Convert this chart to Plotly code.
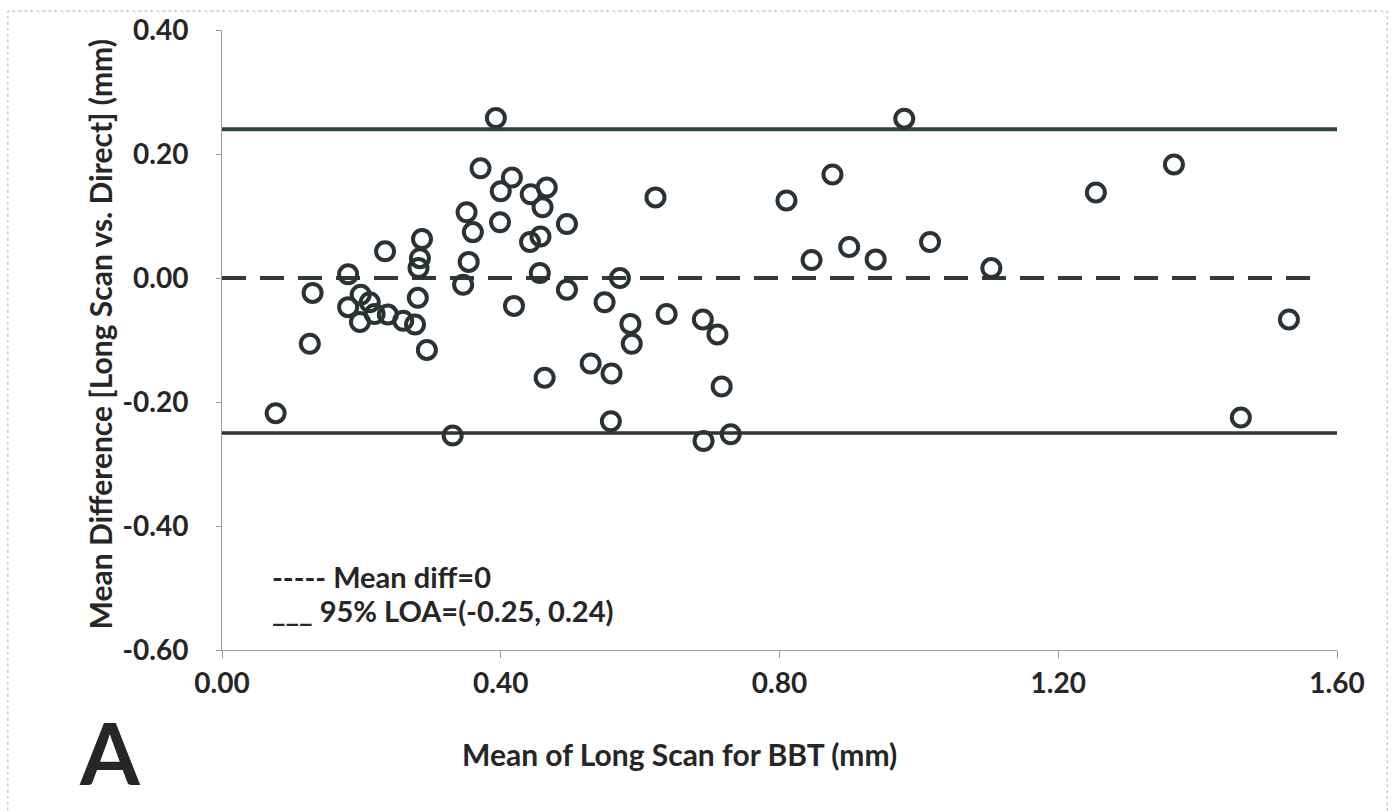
import plotly.graph_objects as go

# Bland-Altman data: mean of long scan (x) vs mean difference (y)
mean_long = [0.077, 0.126, 0.130, 0.181, 0.181, 0.199, 0.212, 0.219, 0.198, 0.234,
             0.238, 0.260, 0.277, 0.281, 0.282, 0.284, 0.287, 0.294, 0.331, 0.346,
             0.351, 0.354, 0.360, 0.371, 0.393, 0.400, 0.399, 0.416, 0.419, 0.442,
             0.443, 0.457, 0.456, 0.460, 0.466, 0.463, 0.495, 0.495, 0.529, 0.549,
             0.559, 0.558, 0.571, 0.586, 0.588, 0.622, 0.638, 0.690, 0.691, 0.711,
             0.717, 0.730, 0.810, 0.846, 0.876, 0.900, 0.938, 0.979, 1.016, 1.104,
             1.254, 1.366, 1.462, 1.531]
mean_diff = [-0.218, -0.106, -0.024, 0.006, -0.047, -0.027, -0.039, -0.058, -0.071, 0.043,
             -0.059, -0.069, -0.075, -0.032, 0.016, 0.032, 0.063, -0.116, -0.254, -0.011,
             0.106, 0.026, 0.074, 0.177, 0.258, 0.140, 0.090, 0.162, -0.045, 0.058,
             0.135, 0.067, 0.008, 0.114, 0.146, -0.161, 0.087, -0.019, -0.138, -0.039,
             -0.154, -0.231, 0.000, -0.074, -0.106, 0.130, -0.058, -0.067, -0.263, -0.091,
             -0.175, -0.252, 0.125, 0.029, 0.167, 0.050, 0.030, 0.257, 0.058, 0.016,
             0.138, 0.183, -0.225, -0.067]

mean_line_x = [0.0, 1.578]
mean_line_y = [0.0, 0.0]
loa_x = [0.0, 1.6]
loa_upper = [0.24, 0.24]
loa_lower = [-0.25, -0.25]

x_ticks = [0.0, 0.4, 0.8, 1.2, 1.6]
x_ticktext = ["0.00", "0.40", "0.80", "1.20", "1.60"]
y_ticks = [0.4, 0.2, 0.0, -0.2, -0.4, -0.6]
y_ticktext = ["0.40", "0.20", "0.00", "-0.20", "-0.40", "-0.60"]

FONT = "Lato"
TXT = "#262626"
MARK = "#293430"

fig = go.Figure()
fig.add_trace(go.Scatter(x=loa_x, y=loa_upper, mode="lines",
                         line=dict(color="#2e4638", width=4), hoverinfo="skip"))
fig.add_trace(go.Scatter(x=loa_x, y=loa_lower, mode="lines",
                         line=dict(color="#303433", width=3.5), hoverinfo="skip"))
fig.add_trace(go.Scatter(x=mean_line_x, y=mean_line_y, mode="lines",
                         line=dict(color="#2f3a34", width=4, dash="24px,14px"),
                         hoverinfo="skip"))
fig.add_trace(go.Scatter(x=mean_long, y=mean_diff, mode="markers",
                         marker=dict(symbol="circle-open", size=18, color=MARK,
                                     line=dict(color=MARK, width=4))))

fig.update_layout(
    width=1391, height=811,
    margin=dict(l=222, r=54, t=27, b=161),
    paper_bgcolor="white", plot_bgcolor="white",
    showlegend=False,
    font=dict(family=FONT, color=TXT),
    xaxis=dict(range=[0, 1.6], tickvals=x_ticks, ticktext=x_ticktext,
               showgrid=False, zeroline=False, showline=True,
               linecolor="#9a9a9a", linewidth=1, ticks="outside", ticklen=7,
               tickcolor="#9a9a9a", tickfont=dict(family=FONT, size=28, color=TXT, weight="bold"),
               ticklabelstandoff=1),
    yaxis=dict(range=[-0.6, 0.4], tickvals=y_ticks, ticktext=y_ticktext,
               showgrid=False, zeroline=False, showline=True,
               linecolor="#9a9a9a", linewidth=1, ticks="outside", ticklen=5,
               tickcolor="#9a9a9a", tickfont=dict(family=FONT, size=28, color=TXT, weight="bold"),
               ticklabelstandoff=22),
)

annos = [
    dict(text="Mean of Long Scan for BBT (mm)", x=0.41, y=-0.1685, size=30),
    dict(text="Mean Difference [Long Scan vs. Direct] (mm)", x=-0.1094, y=0.509, size=30, textangle=-90),
    dict(text="A", x=-0.1004, y=-0.163, size=86),
]
for a in annos:
    fig.add_annotation(text=a["text"], x=a["x"], y=a["y"], xref="paper", yref="paper",
                       showarrow=False, xanchor="center", yanchor="middle",
                       textangle=a.get("textangle", 0),
                       font=dict(family=FONT, size=a["size"], color=TXT, weight="bold"))

fig.add_annotation(text="----- Mean diff=0", x=0.043, y=0.119, xref="paper", yref="paper",
                   showarrow=False, xanchor="left", yanchor="middle",
                   font=dict(family=FONT, size=29, color=TXT, weight="bold"))
fig.add_annotation(text="___ 95% LOA=(-0.25, 0.24)", x=0.043, y=0.064, xref="paper", yref="paper",
                   showarrow=False, xanchor="left", yanchor="middle",
                   font=dict(family=FONT, size=29, color=TXT, weight="bold"))

# dotted frame of the scanned figure
fig.add_shape(type="rect", xref="paper", yref="paper",
              x0=-0.192, x1=1.045, y0=-0.3, y1=1.0305,
              line=dict(color="#b0b0b0", width=1, dash="dot"))

fig.write_html("out.html")
